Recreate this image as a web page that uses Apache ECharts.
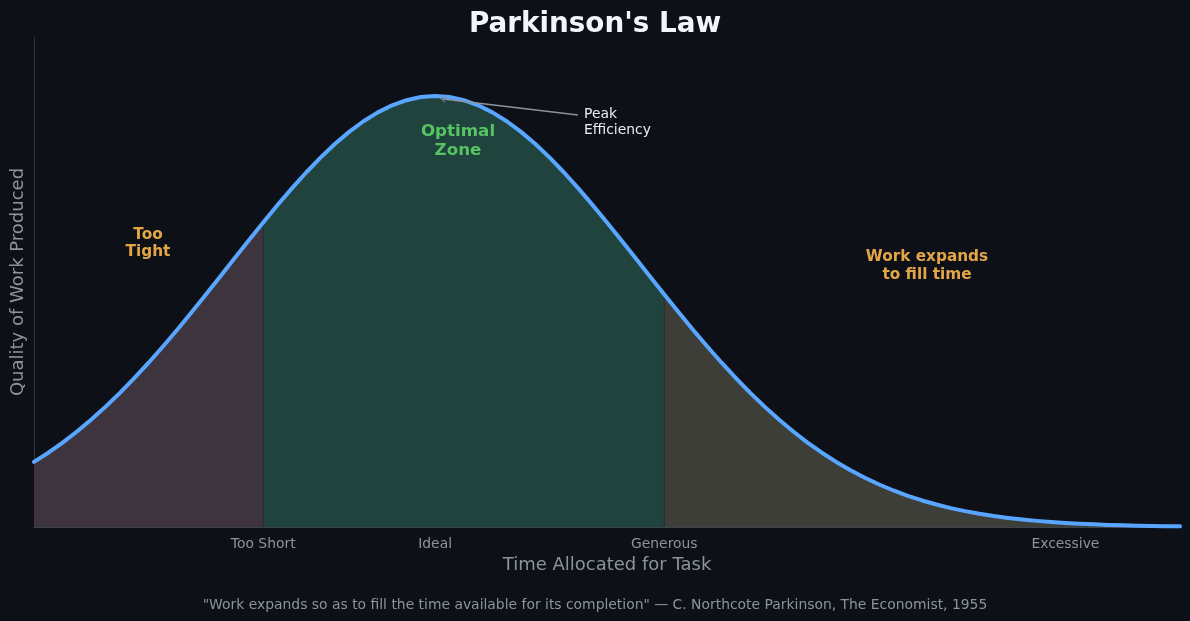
<!DOCTYPE html>
<html>
<head>
<meta charset="utf-8">
<script src="https://cdn.jsdelivr.net/npm/echarts@6/dist/echarts.min.js"></script>
<style>
html,body{margin:0;padding:0;background:#0d1117;}
#chart{width:1190px;height:621px;}
</style>
</head>
<body>
<div id="chart"></div>
<script>
// Time allocated (x) and quality of work (y)
const timeValues = [0,0.125,0.25,0.375,0.5,0.625,0.75,0.875,1,1.125,1.25,1.375,1.5,1.625,1.75,1.875,2,2.125,2.25,2.375,2.5,2.625,2.75,2.875,3,3.125,3.25,3.375,3.5,3.625,3.75,3.875,4,4.125,4.25,4.375,4.5,4.625,4.75,4.875,5,5.125,5.25,5.375,5.5,5.625,5.75,5.875,6,6.125,6.25,6.375,6.5,6.625,6.75,6.875,7,7.125,7.25,7.375,7.5,7.625,7.75,7.875,8,8.125,8.25,8.375,8.5,8.625,8.75,8.875,9,9.125,9.25,9.375,9.5,9.625,9.75,9.875,10];
const qualityValues = [0.1510,0.1724,0.1959,0.2216,0.2494,0.2793,0.3113,0.3453,0.3812,0.4188,0.4578,0.4982,0.5394,0.5813,0.6234,0.6653,0.7067,0.7470,0.7857,0.8226,0.8570,0.8886,0.9169,0.9415,0.9621,0.9785,0.9904,0.9976,1.0000,0.9976,0.9904,0.9785,0.9621,0.9415,0.9169,0.8886,0.8570,0.8226,0.7857,0.7470,0.7067,0.6653,0.6234,0.5813,0.5394,0.4982,0.4578,0.4188,0.3812,0.3453,0.3113,0.2793,0.2494,0.2216,0.1959,0.1724,0.1510,0.1316,0.1142,0.0986,0.0847,0.0724,0.0616,0.0521,0.0439,0.0368,0.0307,0.0255,0.0211,0.0174,0.0142,0.0116,0.0094,0.0076,0.0061,0.0049,0.0039,0.0031,0.0024,0.0019,0.0015];
const tickValues = [2, 3.5, 5.5, 9];
const tickLabels = ['Too Short', 'Ideal', 'Generous', 'Excessive'];
const zoneBounds = [0, 2, 5.5, 10];
const zoneColors = ['#3e343d', '#21433d', '#3d3e37'];

const FONT = '"DejaVu Sans", sans-serif';
const curve = timeValues.map((t, i) => [t, qualityValues[i]]);

const zoneSeries = zoneColors.map((c, k) => ({
  type: 'line',
  data: curve.filter(p => p[0] >= zoneBounds[k] && p[0] <= zoneBounds[k + 1]),
  showSymbol: false,
  smooth: false,
  lineStyle: { width: 0 },
  areaStyle: { color: c, opacity: 1 },
  silent: true,
  z: 1
}));

const dividerSeries = [zoneBounds[1], zoneBounds[2]].map(b => {
  const idx = timeValues.indexOf(b);
  return {
    type: 'line',
    data: [[b, 0], [b, qualityValues[idx]]],
    showSymbol: false,
    lineStyle: { width: 1, color: '#2b2f36' },
    silent: true,
    z: 2
  };
});

const chart = echarts.init(document.getElementById('chart'));
chart.setOption({
  backgroundColor: '#0d1117',
  animation: false,
  title: {
    text: "Parkinson's Law",
    left: 'center',
    top: 6,
    textStyle: { color: '#f0f6fc', fontSize: 27.8, fontWeight: 'bold', fontFamily: FONT }
  },
  grid: { left: 34, right: 10, top: 37, bottom: 94 },
  xAxis: {
    type: 'value',
    min: 0,
    max: 10,
    name: 'Time Allocated for Task',
    nameLocation: 'middle',
    nameGap: 29,
    nameTextStyle: { color: '#8b949e', fontSize: 18, fontFamily: FONT },
    axisLine: { show: true, lineStyle: { color: '#484f58', type: 'dotted', width: 1 } },
    axisTick: { show: false },
    splitLine: { show: false },
    axisLabel: {
      customValues: tickValues,
      formatter: v => {
        const i = tickValues.indexOf(v);
        return i >= 0 ? tickLabels[i] : '';
      },
      color: '#8b949e',
      fontSize: 13.9,
      fontFamily: FONT,
      margin: 10
    }
  },
  yAxis: {
    type: 'value',
    min: 0,
    max: 1.137,
    name: 'Quality of Work Produced',
    nameLocation: 'middle',
    nameGap: 7,
    nameTextStyle: { color: '#8b949e', fontSize: 18, fontFamily: FONT },
    axisLine: { show: true, lineStyle: { color: '#30363d', width: 1 } },
    axisTick: { show: false },
    axisLabel: { show: false },
    splitLine: { show: false }
  },
  series: [
    ...zoneSeries,
    ...dividerSeries,
    {
      type: 'line',
      data: curve,
      smooth: false,
      showSymbol: false,
      lineStyle: { color: '#58a6ff', width: 4, join: 'round', cap: 'round' },
      z: 5
    }
  ],
  graphic: [
    { type: 'text', left: 'center', top: 598, style: { text: '"Work expands so as to fill the time available for its completion" \u2014 C. Northcote Parkinson, The Economist, 1955', fill: '#8b949e', font: '13.9px ' + FONT } },
    { type: 'text', x: 148, y: 244, style: { text: 'Too\nTight', fill: '#e3a548', font: 'bold 15.3px ' + FONT, align: 'center', verticalAlign: 'middle', lineHeight: 17 }, z: 10 },
    { type: 'text', x: 458, y: 141, style: { text: 'Optimal\nZone', fill: '#56c463', font: 'bold 16.7px ' + FONT, align: 'center', verticalAlign: 'middle', lineHeight: 19.5 }, z: 10 },
    { type: 'text', x: 927, y: 266, style: { text: 'Work expands\nto fill time', fill: '#e3a548', font: 'bold 15.3px ' + FONT, align: 'center', verticalAlign: 'middle', lineHeight: 17.5 }, z: 10 },
    { type: 'text', x: 584, y: 122, style: { text: 'Peak\nEfficiency', fill: '#e6edf3', font: '13.9px ' + FONT, align: 'left', verticalAlign: 'middle', lineHeight: 16 }, z: 10 },
    { type: 'line', shape: { x1: 578, y1: 115, x2: 443, y2: 99 }, style: { stroke: '#8b949e', lineWidth: 1.5 }, z: 10 },
    { type: 'polyline', shape: { points: [[446, 96], [440, 98], [445, 102]] }, style: { stroke: '#8b949e', lineWidth: 1, fill: null }, z: 10 }
  ]
});
</script>
</body>
</html>
